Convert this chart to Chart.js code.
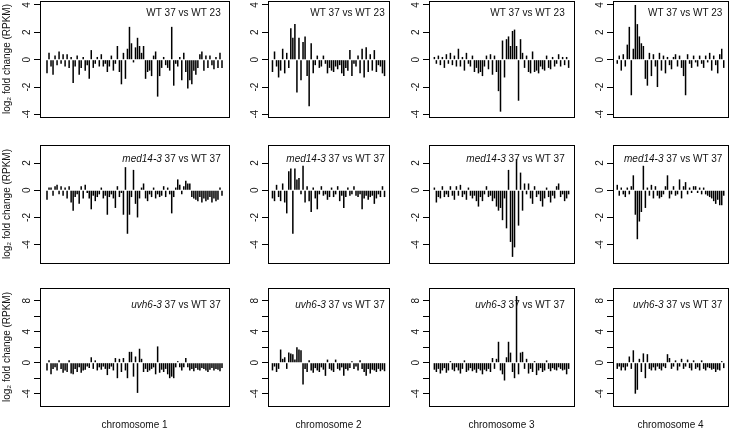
<!DOCTYPE html>
<html>
<head>
<meta charset="utf-8">
<script src="https://cdn.jsdelivr.net/npm/chart.js@4.4.1/dist/chart.umd.min.js"></script>
<style>
  html, body { margin: 0; padding: 0; background: #fff; }
  #wrap { position: relative; width: 729px; height: 431px; overflow: hidden; }
  #wrap canvas { position: absolute; }
</style>
</head>
<body>
<div id="wrap"></div>
<script>
/* data: log2 fold change per genome bin */
const chromosomes = ['chromosome 1', 'chromosome 2', 'chromosome 3', 'chromosome 4'];
const comparisons = [['', 'WT 37 vs WT 23'], ['med14-3', ' 37 vs WT 37'], ['uvh6-3', ' 37 vs WT 37']];
const yTitle = 'log\u2082 fold change (RPKM)';

const wtChr1 = [-1.0,0.5,-0.5,-1.1,0.3,-0.4,0.6,-0.3,0.4,-0.5,0.4,-0.6,0.2,-1.7,-0.5,0.3,-1.1,-0.6,0.2,-0.8,
  -0.4,-1.4,0.7,-0.6,-0.3,0.2,-0.5,0.4,-0.5,-0.3,-0.9,-0.5,0.3,-0.8,-0.3,1.0,-0.9,-1.8,0.5,-1.4,
  0.8,2.4,1.2,-0.2,0.9,1.6,1.0,0.5,1.0,-1.4,-0.9,-0.8,-1.2,0.3,0.6,-2.7,-1.2,-0.6,0.2,-0.4,
  -0.6,-0.8,2.4,-1.9,-0.3,-0.5,0.2,-1.5,0.5,-0.9,-2.1,-1.5,-1.8,-0.8,-1.1,-0.6,0.4,0.6,-0.8,0.3,
  -0.6,0.3,-0.4,-0.7,0.2,-0.6,0.5,-0.6];
const wtChr2 = [-0.9,0.6,-0.5,-1.3,-0.8,0.8,-1.0,0.5,-0.6,2.3,1.6,2.6,-2.4,1.6,-1.5,1.3,1.7,-1.2,-3.4,1.2,
  -1.0,-0.4,0.3,-0.6,-0.5,0.3,-0.3,-1.0,-0.6,-0.8,-0.9,-0.5,-0.7,-0.4,-1.0,-1.2,-0.6,-0.8,0.7,-1.2,
  -0.3,-0.5,0.3,-1.0,0.8,-1.3,0.9,-0.9,0.4,-0.8,0.7,-0.9,-0.4,-0.5,-1.0,-1.2];
const wtChr3 = [0.2,-0.3,0.3,-0.4,0.2,-0.6,0.4,-0.3,0.5,-0.4,0.3,-0.5,0.8,-0.5,0.2,-0.8,0.5,-0.3,-0.5,0.3,
  -0.9,-0.6,-1.0,-0.9,-1.2,-0.5,0.3,-0.7,0.4,-1.1,0.3,-0.9,-2.3,-3.8,1.4,-1.3,1.5,1.7,1.0,2.1,
  2.2,1.0,-3.0,1.5,0.5,-0.6,0.3,-0.9,-1.0,0.6,-0.9,-0.8,-1.0,-0.5,-0.7,-0.8,0.3,-0.6,-0.7,0.2,
  -0.5,-0.3,0.4,-0.5,0.2,-0.4,0.2,-0.6];
const wtChr4 = [-0.3,0.3,-0.8,0.4,-0.5,1.1,2.4,-2.6,0.8,4.0,2.6,1.7,1.2,1.0,-1.4,-1.9,0.5,-1.2,0.4,-0.5,
  -2.0,0.5,-0.8,0.3,-1.0,0.2,-0.4,-0.7,0.2,0.4,-0.5,0.3,-0.6,-1.2,-2.6,0.4,-0.3,-0.6,0.3,-0.2,
  -0.5,0.3,-0.3,-0.6,0.3,-0.2,0.5,-0.8,0.3,-0.4,-1.0,0.4,0.8,-0.6];

const medChr1 = [-0.7,0.2,0.2,-0.4,0.3,0.4,-0.3,0.3,-0.4,0.2,-0.6,0.3,-0.9,-1.5,-0.5,-0.3,-1.0,0.3,-0.6,0.4,
  -0.2,-0.6,-1.4,-0.4,-0.8,-0.5,-0.3,0.2,-0.6,-0.4,-1.8,-0.5,-0.3,-0.6,-1.3,0.3,-0.5,-0.2,-1.8,1.7,
  -3.2,-1.8,-0.5,1.5,-1.0,-2.0,-0.6,0.2,0.5,-0.6,-0.8,-0.3,-0.5,0.2,-0.6,-0.3,-0.5,-0.4,0.3,-0.5,
  0.2,-0.3,-1.7,-0.5,0.2,0.8,0.4,-0.3,0.3,0.7,0.5,0.5,-0.5,-0.6,-0.7,-0.8,-0.5,-0.9,-0.6,-0.8,
  -0.7,-0.5,-0.9,-0.6,-0.8,-0.7,0.2,-0.4];
const medChr2 = [-0.6,-0.8,0.4,-0.5,-0.8,0.5,-0.9,-1.7,1.4,1.6,-3.2,1.6,0.8,0.9,-0.3,1.8,-0.9,0.3,-0.8,-1.6,
  0.2,-0.6,-1.4,-0.3,0.3,-0.4,-0.3,-0.7,-0.5,0.2,-0.5,-0.3,0.3,-0.8,-0.4,-1.3,-0.5,0.2,-0.4,-0.3,
  0.3,-0.4,-0.5,-0.3,-1.4,-0.6,-0.4,-0.7,-0.5,-0.4,-1.0,-0.6,-0.3,-0.5,0.3,-0.5];
const medChr3 = [0.2,-0.9,-0.5,-0.6,0.3,-0.5,-0.3,-0.5,0.3,-0.4,-0.7,0.3,-0.4,0.4,-0.5,-0.3,-0.7,0.2,-0.4,-0.6,
  -0.4,-0.8,-1.2,-0.5,-0.8,-0.3,0.3,-0.5,-0.4,-0.8,-0.6,-1.2,-1.5,-1.3,-2.2,-0.6,-2.8,1.5,-3.8,-4.9,
  -4.2,2.3,-2.6,1.3,-1.5,0.5,-0.3,0.5,-0.6,-1.0,0.3,-0.5,-0.3,-0.8,-1.2,-0.6,0.2,-0.5,-0.9,-0.4,
  -0.6,0.3,0.5,-0.5,-0.3,-0.8,-0.6,-0.3];
const medChr4 = [0.4,-0.4,0.2,-0.3,-0.5,0.2,-0.3,0.3,1.1,-1.8,-3.6,-2.3,-1.6,1.8,-1.3,0.2,-0.4,0.4,-0.6,0.3,
  -0.4,-0.6,-0.5,-0.3,0.3,1.1,-0.6,-0.3,0.3,-0.4,-0.3,0.8,-0.6,0.3,0.6,-0.3,0.2,-0.2,0.3,0.3,
  -0.2,0.2,-0.3,0.2,-0.3,-0.4,-0.5,-0.6,-0.8,-1.0,-0.7,-1.1,-1.1,-0.4];

const uvhChr1 = [-1.0,0.3,-1.5,-0.8,-0.6,-1.0,0.3,-0.8,-1.3,-1.0,-1.2,0.3,-1.4,-1.5,-0.8,-1.2,-0.6,-1.3,-1.0,-0.9,
  -0.5,-0.7,0.7,-0.8,0.3,-1.0,-0.6,-0.9,-0.5,-0.8,-1.6,-0.8,-0.5,-1.0,0.6,-2.0,0.5,-1.2,0.6,-1.0,
  -2.0,1.4,1.4,-1.8,0.8,-3.9,1.8,0.5,-1.2,-0.8,-1.2,-1.0,-0.8,-0.6,-1.5,2.1,-1.3,-0.9,-1.2,-0.8,
  -1.5,-2.0,-1.8,-2.0,-0.6,0.2,-0.6,-1.0,-0.6,0.6,-0.6,-1.0,-0.8,-1.1,-0.7,-0.9,-1.0,-0.7,-0.8,-1.0,
  -1.2,-0.9,-0.7,-1.0,-0.8,-0.9,-1.1,-0.7];
const uvhChr2 = [-1.0,-0.5,-1.2,-0.8,1.7,0.5,0.7,-0.8,1.3,1.2,1.1,0.4,2.0,1.7,1.6,-2.8,-0.8,-1.2,0.3,-1.0,
  -1.3,-0.7,-1.0,-1.2,-0.6,-0.9,-1.7,0.4,-0.8,-1.0,-1.2,0.4,-0.8,-1.0,-0.6,-1.7,-0.8,-1.0,-0.7,0.2,
  -0.8,-0.5,-1.0,0.3,-0.8,-1.2,-1.7,-0.8,-1.4,-0.9,-1.0,-1.2,-0.8,-1.1,-0.9,-1.1];
const uvhChr3 = [-0.9,-1.2,-0.8,-1.4,-1.0,-0.7,-1.3,-1.0,0.2,-0.9,-1.1,-0.6,-1.0,-1.4,-0.8,0.3,-1.2,-1.0,-0.7,-1.1,
  -0.9,-1.3,-0.8,-1.0,-1.5,-0.9,-1.1,-0.8,-1.2,0.6,-0.8,0.5,2.7,-1.0,-1.5,-2.3,0.7,2.7,1.3,-1.2,
  -2.0,8.6,-1.5,1.3,1.4,-0.8,0.5,-1.4,-0.8,-1.2,0.2,-1.6,-1.0,-0.7,-1.2,-1.0,0.3,-0.8,-1.1,-0.7,
  -0.9,-1.0,-0.6,-0.8,-1.0,-0.9,-1.5,-0.8];
const uvhChr4 = [-0.8,-0.5,-1.0,-0.6,-1.0,-0.5,0.8,-0.8,1.6,-4.0,-3.5,0.5,-1.2,1.2,-2.0,1.1,-0.8,-1.0,-0.6,-1.0,
  -0.5,-0.8,-1.0,-0.5,-0.7,1.1,0.6,-0.8,-0.5,0.3,-1.0,-0.5,0.5,-0.8,-0.5,0.4,-0.7,-1.0,0.3,-0.8,
  -0.6,-1.0,0.3,-0.8,-1.0,-0.6,-0.7,-0.9,-0.8,-1.2,-0.9,-1.0,0.2,-0.7];

const rowTicks = [[-4, -2, 0, 2, 4], [-4, -2, 0, 2], [-4, -2, 0, 2, 4, 6, 8]];
const rowTickLabels = [['-4', '-2', '0', '2', '4'], ['-4', '-2', '0', '2'], ['-4', '', '0', '', '4', '', '8']];
const rowMin = [-4.19, -5.35, -5.59];
const rowMax = [4.29, 3.33, 9.64];

const panels = [
  [wtChr1, wtChr2, wtChr3, wtChr4],
  [medChr1, medChr2, medChr3, medChr4],
  [uvhChr1, uvhChr2, uvhChr3, uvhChr4]
];

/* layout (pixels) */
const colLeft = [40, 268, 429, 613], colRight = [229, 389, 574, 728];
const rowTop = [1, 145, 288], rowBottom = [117, 263, 406];
const labelBase = [14.5, 17.3, 19.7];   // label baseline below box top
const labelGap = [8.3, 4.3, 9.3, 5.6];  // label end inside box right
const FONT = '"Liberation Sans", Arial, Helvetica, sans-serif';
const INK = '#111';
const BAR = '#000';

Chart.defaults.font.family = FONT;
Chart.defaults.font.size = 10;
Chart.defaults.color = INK;

const panelDeco = {
  id: 'panelDeco',
  afterDatasetsDraw(chart, args, o) {
    const { ctx, chartArea: a } = chart;
    ctx.save();
    ctx.fillStyle = INK;
    ctx.textBaseline = 'alphabetic';
    ctx.textAlign = 'left';
    ctx.font = '10px ' + FONT;
    const restW = ctx.measureText(o.rest).width;
    ctx.font = 'italic 10px ' + FONT;
    const itW = o.italic ? ctx.measureText(o.italic).width : 0;
    const x = a.right - o.gap - restW - itW, y = a.top + o.base;
    if (o.italic) ctx.fillText(o.italic, x, y);
    ctx.font = '10px ' + FONT;
    ctx.fillText(o.rest, x + itW, y);
    ctx.restore();
  },
  afterDraw(chart) {
    const { ctx, chartArea: a } = chart;
    ctx.save();
    ctx.strokeStyle = '#000';
    ctx.lineWidth = 1;
    ctx.strokeRect(Math.round(a.left) + 0.5, Math.round(a.top) + 0.5,
      Math.round(a.right - a.left), Math.round(a.bottom - a.top));
    ctx.restore();
  }
};

const wrap = document.getElementById('wrap');

panels.forEach((row, r) => {
  const last = r === panels.length - 1;
  row.forEach((vals, c) => {
    const n = vals.length;
    const pad = 0.04 * (n - 1);
    const canvasLeft = c === 0 ? 0 : colLeft[c] - 30;
    const axisW = colLeft[c] - canvasLeft;
    const top = rowTop[r] - 1;
    const w = colRight[c] - canvasLeft + 1;
    const h = last ? 431 - top : rowBottom[r] - rowTop[r] + 2;

    const cv = document.createElement('canvas');
    cv.width = w;
    cv.height = h;
    cv.style.left = canvasLeft + 'px';
    cv.style.top = top + 'px';
    cv.style.width = w + 'px';
    cv.style.height = h + 'px';
    wrap.appendChild(cv);

    new Chart(cv, {
      type: 'bar',
      data: {
        labels: vals.map((_, i) => i),
        datasets: [{
          data: vals,
          backgroundColor: BAR,
          borderWidth: 0,
          categoryPercentage: 1,
          barPercentage: 0.75
        }]
      },
      options: {
        responsive: false,
        animation: false,
        devicePixelRatio: 1,
        layout: { padding: { top: 1, right: 1, left: 0, bottom: last ? 0 : 1 } },
        plugins: {
          legend: { display: false },
          tooltip: { enabled: false },
          panelDeco: { italic: comparisons[r][0], rest: comparisons[r][1], base: labelBase[r], gap: labelGap[c] }
        },
        scales: {
          x: {
            type: 'linear',
            offset: false,
            min: -pad,
            max: n - 1 + pad,
            display: last,
            grid: { display: false },
            border: { display: false },
            ticks: { display: false },
            title: { display: true, text: chromosomes[c], color: INK, font: { size: 10 }, padding: 0 },
            afterFit: s => {
              s.height = last ? 25 : 0;
              s.paddingLeft = s.paddingRight = 0;
            }
          },
          y: {
            min: rowMin[r],
            max: rowMax[r],
            afterBuildTicks: s => { s.ticks = rowTicks[r].map(v => ({ value: v })); },
            afterFit: s => {
              s.width = axisW;
              s.paddingTop = s.paddingBottom = 0;
            },
            grid: { drawOnChartArea: false, tickLength: 6, color: '#000', lineWidth: 1 },
            border: { display: false },
            ticks: {
              autoSkip: false,
              minRotation: 90,
              maxRotation: 90,
              crossAlign: 'center',
              padding: 2.5,
              color: INK,
              font: { size: 10 },
              callback: (v, i) => rowTickLabels[r][i]
            },
            title: { display: c === 0, text: yTitle, color: INK, font: { size: 10 }, padding: { top: 1, bottom: 0 } }
          }
        }
      },
      plugins: [panelDeco]
    });
  });
});
</script>
</body>
</html>
